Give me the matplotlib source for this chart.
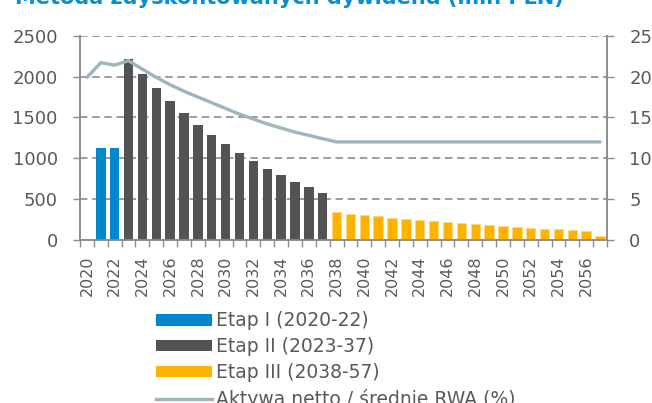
import matplotlib
matplotlib.use("Agg")
import matplotlib.pyplot as plt
from matplotlib.lines import Line2D
from matplotlib.patches import Patch
import numpy as np

# Years 2020-2057
years = list(range(2020, 2058))

# Discounted dividends by stage (mln PLN)
etap1 = [0, 1130, 1120]
etap2 = [2220, 2030, 1860, 1700, 1550, 1410, 1280, 1170, 1065, 965,
         870, 790, 715, 645, 570]
etap3 = [340, 322, 306, 290, 274, 258, 245, 232, 220, 207,
         195, 183, 171, 159, 150, 138, 130, 122, 110, 53]

# Net assets / average RWA (%)
ratio = [19.9, 21.7, 21.4, 21.95, 20.9, 19.9, 19.0, 18.2, 17.5, 16.8,
         16.1, 15.4, 14.8, 14.2, 13.7, 13.2, 12.8, 12.4,
         12.0, 12.0, 12.0, 12.0, 12.0, 12.0, 12.0, 12.0, 12.0, 12.0,
         12.0, 12.0, 12.0, 12.0, 12.0, 12.0, 12.0, 12.0, 12.0, 12.0]

labels = ["Etap I (2020-22)", "Etap II (2023-37)", "Etap III (2038-57)",
          "Aktywa netto / średnie RWA (%)"]
title = "Metoda zdyskontowanych dywidend (mln PLN)"

c_blue = "#0088CC"
c_dark = "#525355"
c_yellow = "#FDB300"
c_line = "#9DB6BD"
c_text = "#595959"
c_axis = "#8C8C8C"

plt.rcParams["font.family"] = ["DejaVu Sans"]

fig = plt.figure(figsize=(6.52, 4.03), dpi=100)
ax = fig.add_axes([80 / 652, 1 - 240 / 403, 527 / 652, 204.3 / 403])
ax2 = ax.twinx()

x = np.arange(len(years))
n1, n2 = len(etap1), len(etap2)
w = 0.68
ax.bar(x[:n1], etap1, width=w, color=c_blue, zorder=3)
ax.bar(x[n1:n1 + n2], etap2, width=w, color=c_dark, zorder=3)
ax.bar(x[n1 + n2:], etap3, width=w, color=c_yellow,
       edgecolor="#FFD77A", linewidth=0.6, zorder=3)

ax2.plot(x, ratio, color=c_line, linewidth=2.4, solid_capstyle="round",
         zorder=4)

ax.set_xlim(-0.5, len(years) - 0.5)
ax.set_ylim(0, 2500)
ax2.set_ylim(0, 25)
ax.set_yticks(np.arange(0, 2501, 500))
ax2.set_yticks(np.arange(0, 26, 5))

ax.yaxis.grid(True, linestyle=(0, (4.5, 2.8)), color=c_axis, linewidth=1.2,
              zorder=0)
ax.set_axisbelow(True)

# Category ticks sit between bars; labels every other year
ax.set_xticks(np.arange(-0.5, len(years), 1.0))
ax.set_xticklabels([])
ax.set_xticks(x[::2], minor=True)
ax.set_xticklabels([str(y) for y in years[::2]], minor=True, rotation=90,
                   fontsize=11.5, color=c_text)
ax.tick_params(axis="x", which="major", length=5, width=1, color=c_axis,
               direction="out")
ax.tick_params(axis="x", which="minor", length=0, pad=11)

ax.tick_params(axis="y", length=5, width=1, color=c_axis, pad=11,
               labelsize=13, labelcolor=c_text)
ax2.tick_params(axis="y", length=5, width=1, color=c_axis, pad=11,
                labelsize=13, labelcolor=c_text)

for a in (ax, ax2):
    a.spines["top"].set_visible(False)
    for s in ("left", "right", "bottom"):
        a.spines[s].set_color(c_axis)
        a.spines[s].set_linewidth(1.2)

handles = [Patch(facecolor=c_blue), Patch(facecolor=c_dark),
           Patch(facecolor=c_yellow),
           Line2D([], [], color=c_line, linewidth=2.4)]
fig.legend(handles, labels, loc="upper left",
           bbox_to_anchor=(148 / 652, 1 - 304 / 403), frameon=False,
           fontsize=13.5, handlelength=3.0, handleheight=0.58,
           handletextpad=0.25, labelspacing=0.36, labelcolor=c_text,
           borderaxespad=0)

fig.text(15 / 652, 1 - 4 / 403, title, color="#0A8ED0", fontsize=15,
         fontweight="bold", ha="left", va="baseline")

fig.savefig("out.png", dpi=100)
